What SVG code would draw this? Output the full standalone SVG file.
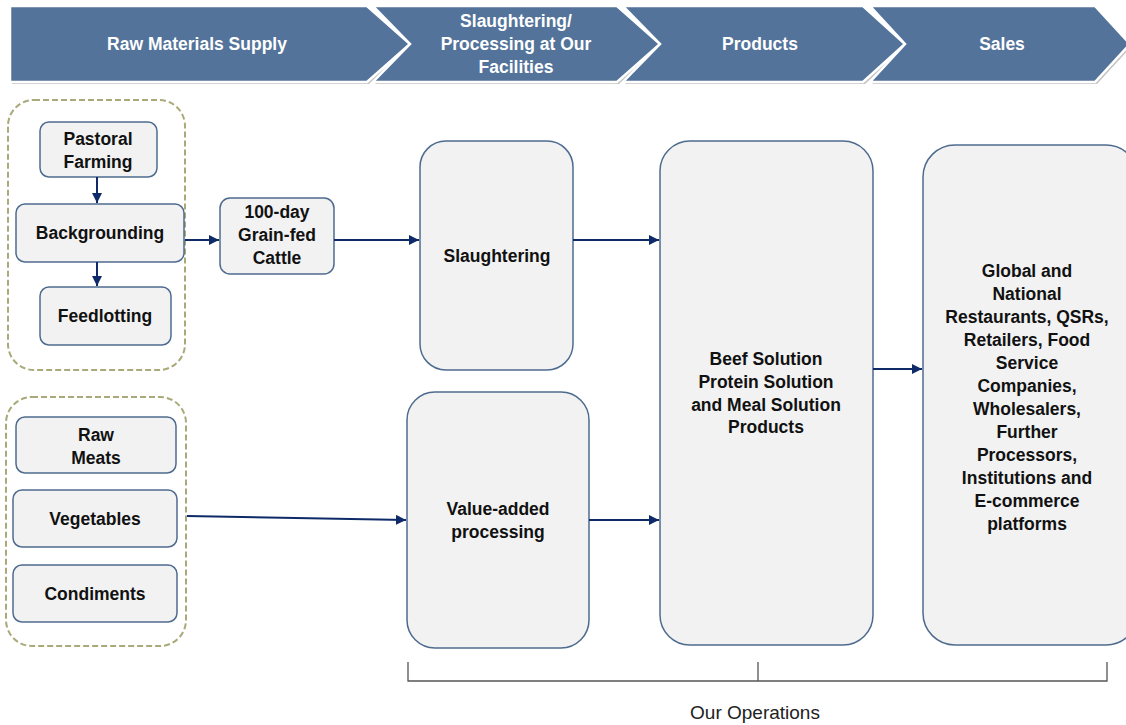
<svg xmlns="http://www.w3.org/2000/svg" width="1126" height="725" viewBox="0 0 1126 725">
<defs>
<style>
.hdr{fill:#53739a;stroke:#ffffff;stroke-width:2.5;stroke-linejoin:miter}
.hsh{fill:#c4c4c4;stroke:none}
.ht{font-family:"Liberation Sans",Arial,sans-serif;font-weight:bold;font-size:17.5px;fill:#ffffff;text-anchor:middle}
.box{fill:#f2f2f2;stroke:#4d6b8f;stroke-width:1.5}
.grp{fill:none;stroke:#a9a97a;stroke-width:2;stroke-dasharray:6 3}
.t{font-family:"Liberation Sans",Arial,sans-serif;font-weight:bold;font-size:17.5px;fill:#111111;text-anchor:middle}
.ln{fill:none;stroke:#0e2a68;stroke-width:2}
.br{fill:none;stroke:#555555;stroke-width:1.3}
.op{font-family:"Liberation Sans",Arial,sans-serif;font-size:19px;fill:#222222;text-anchor:middle}
</style>
<marker id="ah" viewBox="0 0 10 10" refX="10" refY="5" markerWidth="5" markerHeight="5" orient="auto" markerUnits="strokeWidth">
<path d="M0,0 L10,5 L0,10 z" fill="#0e2a68"/>
</marker>
</defs>
<rect width="1126" height="725" fill="#ffffff"/>

<g id="header">
<polygon class="hsh" points="12,8 369,8 412,46 369,84 12,84"/>
<polygon class="hsh" points="375,8 619,8 662,46 619,84 375,84 412,46"/>
<polygon class="hsh" points="625,8 865,8 907,46 865,84 625,84 662,46"/>
<polygon class="hsh" points="872,8 1097,8 1132,46 1097,84 872,84 907,46"/>
<polygon class="hdr" points="10,6 367,6 410,44 367,82 10,82"/>
<polygon class="hdr" points="373,6 617,6 660,44 617,82 373,82 410,44"/>
<polygon class="hdr" points="623,6 863,6 905,44 863,82 623,82 660,44"/>
<polygon class="hdr" points="870,6 1095,6 1130,44 1095,82 870,82 905,44"/>
<text class="ht" x="197" y="50">Raw Materials Supply</text>
<text class="ht" x="516" y="27">Slaughtering/</text>
<text class="ht" x="516" y="50">Processing at Our</text>
<text class="ht" x="516" y="73">Facilities</text>
<text class="ht" x="760" y="50">Products</text>
<text class="ht" x="1002" y="50">Sales</text>
</g>

<g id="group-cattle"><rect class="grp" x="8" y="100" width="177" height="270" rx="26"/></g>
<g id="group-ingredients"><rect class="grp" x="6" y="397" width="180" height="249" rx="26"/></g>

<g id="pastoral"><rect class="box" x="40" y="122" width="117" height="55" rx="9"/>
<text class="t" x="98" y="145">Pastoral</text><text class="t" x="98" y="168">Farming</text></g>
<g id="backgrounding"><rect class="box" x="16" y="204" width="168" height="58" rx="9"/>
<text class="t" x="100" y="239">Backgrounding</text></g>
<g id="feedlotting"><rect class="box" x="40" y="287" width="131" height="58" rx="9"/>
<text class="t" x="105" y="322">Feedlotting</text></g>
<g id="cattle"><rect class="box" x="220" y="198" width="114" height="76" rx="10"/>
<text class="t" x="277" y="218">100-day</text><text class="t" x="277" y="241">Grain-fed</text><text class="t" x="277" y="264">Cattle</text></g>

<g id="rawmeats"><rect class="box" x="16" y="417" width="160" height="56" rx="9"/>
<text class="t" x="96" y="441">Raw</text><text class="t" x="96" y="464">Meats</text></g>
<g id="vegetables"><rect class="box" x="13" y="490" width="164" height="57" rx="9"/>
<text class="t" x="95" y="525">Vegetables</text></g>
<g id="condiments"><rect class="box" x="13" y="565" width="164" height="57" rx="9"/>
<text class="t" x="95" y="600">Condiments</text></g>

<g id="slaughtering"><rect class="box" x="420" y="141" width="153" height="229" rx="26"/>
<text class="t" x="497" y="262">Slaughtering</text></g>
<g id="valueadded"><rect class="box" x="407" y="392" width="182" height="256" rx="28"/>
<text class="t" x="498" y="515">Value-added</text><text class="t" x="498" y="538">processing</text></g>
<g id="products"><rect class="box" x="660" y="141" width="213" height="504" rx="30"/>
<text class="t" x="766" y="365">Beef Solution</text><text class="t" x="766" y="388">Protein Solution</text><text class="t" x="766" y="411">and Meal Solution</text><text class="t" x="766" y="433">Products</text></g>
<g id="sales"><rect class="box" x="923" y="145" width="215" height="500" rx="32"/>
<text class="t" x="1027" y="277">Global and</text>
<text class="t" x="1027" y="300">National</text>
<text class="t" x="1027" y="323">Restaurants, QSRs,</text>
<text class="t" x="1027" y="346">Retailers, Food</text>
<text class="t" x="1027" y="369">Service</text>
<text class="t" x="1027" y="392">Companies,</text>
<text class="t" x="1027" y="415">Wholesalers,</text>
<text class="t" x="1027" y="438">Further</text>
<text class="t" x="1027" y="461">Processors,</text>
<text class="t" x="1027" y="484">Institutions and</text>
<text class="t" x="1027" y="507">E-commerce</text>
<text class="t" x="1027" y="530">platforms</text></g>

<g id="connectors">
<line class="ln" x1="97" y1="177" x2="97" y2="203" marker-end="url(#ah)"/>
<line class="ln" x1="97" y1="262" x2="97" y2="286" marker-end="url(#ah)"/>
<line class="ln" x1="185" y1="240" x2="219" y2="240" marker-end="url(#ah)"/>
<line class="ln" x1="334" y1="240" x2="419" y2="240" marker-end="url(#ah)"/>
<line class="ln" x1="573" y1="240" x2="659" y2="240" marker-end="url(#ah)"/>
<line class="ln" x1="187" y1="516" x2="406" y2="520" marker-end="url(#ah)"/>
<line class="ln" x1="589" y1="520" x2="659" y2="520" marker-end="url(#ah)"/>
<line class="ln" x1="873" y1="369" x2="922" y2="369" marker-end="url(#ah)"/>
</g>

<g id="operations">
<path class="br" d="M408,662 V681 H1107 V662 M758,662 V681"/>
<text class="op" x="755" y="719">Our Operations</text>
</g>
</svg>
